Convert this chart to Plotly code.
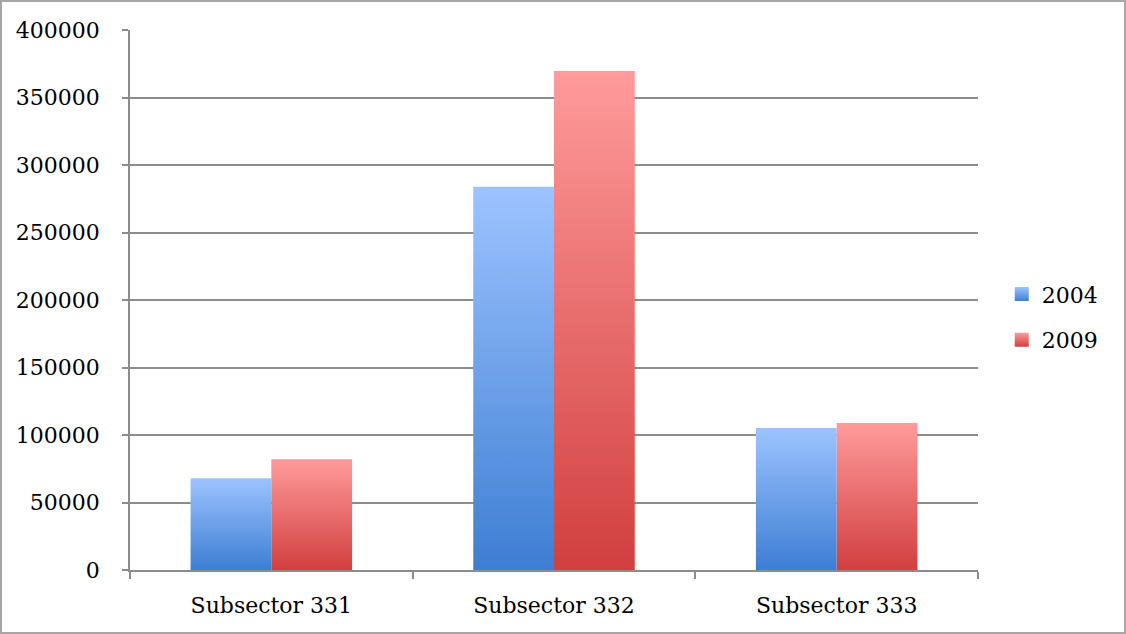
import plotly.graph_objects as go

# Chart data
categories = ["Subsector 331", "Subsector 332", "Subsector 333"]
years = ["2004", "2009"]
values_2004 = [68000, 283800, 105200]
values_2009 = [82000, 369600, 108900]
y_ticks = [0, 50000, 100000, 150000, 200000, 250000, 300000, 350000, 400000]

series = [
    (years[0], values_2004, "#3d7ed3", "#9dc3ff"),
    (years[1], values_2009, "#d13f3f", "#ff9b9b"),
]

W, H = 1126, 634
ML, MR, MT, MB = 130, 148, 30, 64
FONT = "DejaVu Serif"
GRID = "#8c8c8c"

n_series = len(series)
bar_w = 1.0 / (n_series + 1.5)  # 150% gap width between groups

fig = go.Figure()
for s, (name, vals, bottom, top) in enumerate(series):
    for c, v in enumerate(vals):
        x0 = c - n_series * bar_w / 2 + s * bar_w
        x1 = x0 + bar_w
        fig.add_trace(go.Scatter(
            x=[x0, x1, x1, x0, x0],
            y=[0, 0, v, v, 0],
            mode="lines",
            line=dict(width=0),
            fill="toself",
            fillgradient=dict(type="vertical",
                              colorscale=[[0, bottom], [1, top]]),
            fillcolor=bottom,
            name=name,
            showlegend=False,
            hoverinfo="skip",
            xaxis="x",
            yaxis="y",
        ))
    # legend key: small square with the same vertical gradient
    fig.add_trace(go.Scatter(
        x=[None], y=[None], mode="markers", name=name,
        legendgroup=name,
        marker=dict(symbol="square", size=14, color=top,
                    gradient=dict(type="vertical", color=bottom),
                    line=dict(width=0)),
    ))

# invisible trace to activate the label axis
fig.add_trace(go.Scatter(x=[0, 1, 2], y=[0, 0, 0], mode="markers",
                         marker=dict(opacity=0), showlegend=False,
                         hoverinfo="skip", xaxis="x2", yaxis="y"))

pw = W - ML - MR
ph = H - MT - MB
fig.add_shape(type="rect", xref="paper", yref="paper",
              x0=-(ML - 1) / pw, x1=1 + (MR - 1) / pw,
              y0=-(MB - 1) / ph, y1=1 + (MT - 1) / ph,
              line=dict(color="#a6a6a6", width=2), layer="below")

fig.update_layout(
    width=W, height=H,
    margin=dict(l=ML, r=MR, t=MT, b=MB, pad=0, autoexpand=False),
    paper_bgcolor="white", plot_bgcolor="white",
    font=dict(family=FONT, size=22, color="black"),
    xaxis=dict(range=[-0.5, 2.5], tickvals=[-0.5, 0.5, 1.5, 2.5],
               showticklabels=False, ticks="outside", ticklen=7,
               tickcolor=GRID, tickwidth=1.5,
               showline=True, linecolor=GRID, linewidth=1.5,
               showgrid=False, zeroline=False, fixedrange=True),
    xaxis2=dict(range=[-0.5, 2.5], overlaying="x", side="bottom",
                tickvals=[0, 1, 2], ticktext=categories, ticks="",
                ticklabelstandoff=20,
                showline=False, showgrid=False, zeroline=False,
                fixedrange=True),
    yaxis=dict(range=[0, 400000], tickvals=y_ticks, tickformat="d",
               ticks="outside", ticklen=6, tickcolor=GRID, tickwidth=1.5,
               ticklabelstandoff=18,
               showline=True, linecolor=GRID, linewidth=1.5,
               showgrid=True, gridcolor=GRID, gridwidth=1.5,
               zeroline=False, fixedrange=True),
    legend=dict(x=1.028, y=0.468, xanchor="left", yanchor="middle",
                font=dict(size=22), tracegroupgap=14,
                itemwidth=30, bgcolor="rgba(0,0,0,0)"),
    showlegend=True,
)

fig.write_html("out.html")
